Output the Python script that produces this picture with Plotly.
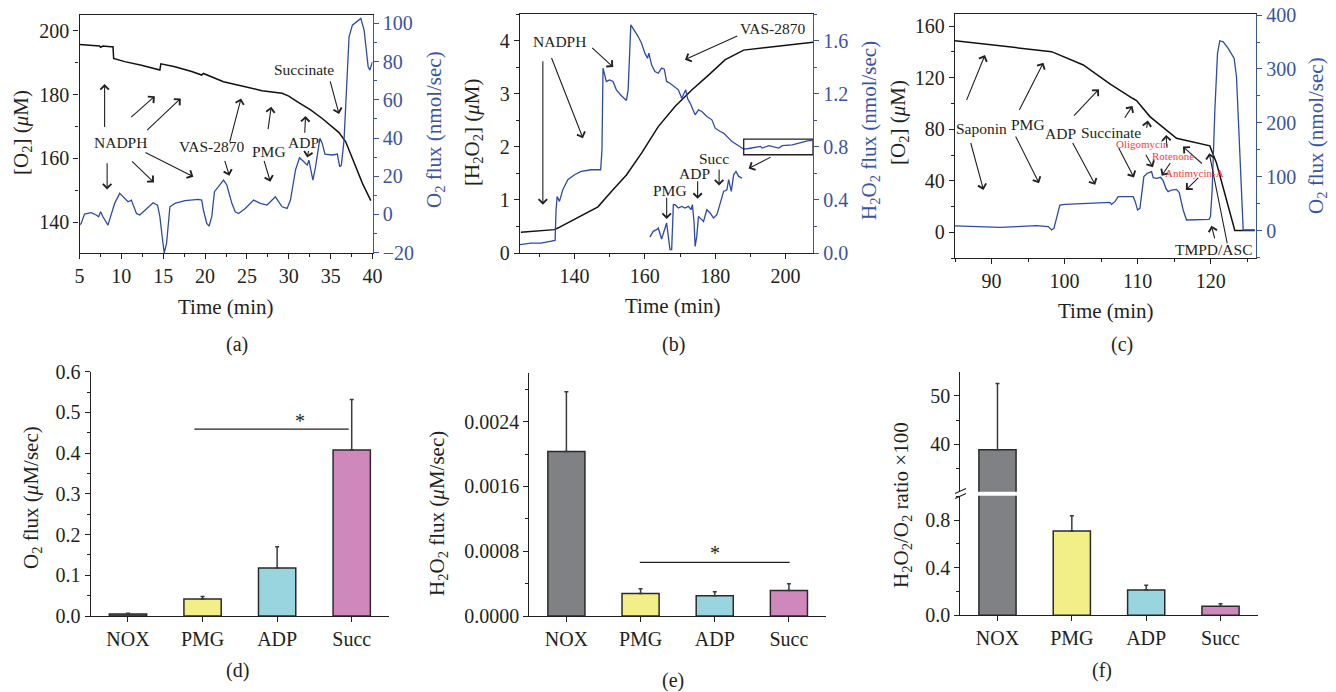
import plotly.graph_objects as go

W, H = 1336, 692
FONT = "Liberation Serif"
INK = "#231f20"
BLUE = "#2d4aa8"
BLUE_AX = "#3b53a4"
RED = "#ff3b3b"

# ---------------- panel (a) ----------------
a_o2_time = [5.0, 7.4, 7.52, 7.8, 8.72, 9.0, 9.08, 10.4, 12.4, 14.4, 14.6, 14.72, 16.4, 18.4,
             19.6, 19.8, 22.2, 24.4, 26.8, 29.2, 30.0, 31.0, 32.6, 34.0, 36.0, 36.8, 38.8, 39.8]
a_o2 = [195.7, 195.2, 194.8, 195.2, 195.0, 195.0, 191.3, 190.3, 189.2, 187.9, 187.7, 189.6, 188.7, 187.2,
        186.1, 186.6, 184.0, 182.7, 181.2, 180.4, 179.5, 177.8, 175.2, 172.5, 168.1, 165.2, 152.2, 146.8]
a_flux_time = [5.0, 5.2, 5.6, 6.4, 7.0, 7.28, 7.52, 7.8, 8.4, 8.8, 9.2, 9.8, 10.4, 10.8, 11.2, 11.8, 12.2,
               12.8, 13.8, 14.32, 14.6, 14.88, 15.12, 15.4, 15.8, 16.4, 17.6, 19.2, 19.6, 19.8, 20.2,
               20.48, 20.8, 21.12, 22.2, 22.6, 23.2, 23.6, 24.0, 24.8, 25.8, 26.6, 27.4, 28.4, 28.8,
               29.2, 29.8, 30.2, 30.8, 31.28, 31.8, 32.2, 32.4, 32.88, 33.2, 33.72, 34.0, 34.32, 35.2,
               35.8, 36.08, 36.28, 36.6, 37.2, 37.6, 38.6, 39.0, 39.48, 39.68, 40.0]
a_flux = [-5.6, -4.7, 0.2, 0.9, -0.3, -1.2, 1.4, -1.2, -5.6, 0.5, 5.8, 11.0, 8.4, 6.6, 7.5, 0.5, -0.3,
          2.3, 6.1, 4.9, -1.2, -11.7, -20.1, -15.2, 4.0, 5.8, 7.2, 7.9, 7.5, 2.3, -4.7,
          -6.1, -1.2, 11.9, 18.0, 15.4, 5.8, 1.4, 0.5, 3.1, 7.5, 5.8, 4.9, 9.2, 6.6,
          4.0, 3.1, 7.5, 23.2, 29.7, 27.6, 25.8, 28.4, 18.0, 25.0, 39.8, 37.2, 31.6, 31.1,
          31.6, 25.0, 25.8, 38.9, 93.0, 99.1, 102.6, 96.5, 77.3, 75.6, 79.9]

# ---------------- panel (b) ----------------
b_h2o2_time = [124.76, 134.29, 135.24, 139.05, 146.67, 150.48, 154.76, 159.05, 163.81, 168.57,
               173.33, 178.1, 182.86, 188.1, 207.9]
b_h2o2 = [0.39, 0.44, 0.47, 0.60, 0.87, 1.16, 1.47, 1.88, 2.38, 2.76, 3.07, 3.35, 3.64, 3.82, 3.97]
b_flux1_time = [124.29, 127.62, 130.48, 134.1, 134.48, 134.76, 135.05, 135.71, 136.67, 138.1, 140.0,
                141.9, 144.76, 147.43, 147.81, 148.1, 148.57, 149.05, 150.0, 150.95, 151.9, 153.33,
                154.76, 155.24, 156.0, 156.95, 158.1, 159.05, 160.0, 160.76, 161.14, 161.9, 162.86,
                163.81, 164.76, 165.52, 166.19, 167.14, 168.1, 169.52, 170.48, 171.62, 172.19, 172.86,
                174.29, 175.24, 176.19, 177.62, 179.05, 180.0, 181.43, 182.38, 183.81, 184.76, 186.19,
                188.1, 189.52, 191.43, 192.86, 193.33, 195.24, 198.1, 199.05, 201.9, 204.76, 206.19, 207.62]
b_flux1 = [0.063, 0.075, 0.075, 0.088, 0.095, 0.326, 0.426, 0.389, 0.476, 0.552, 0.589,
           0.614, 0.627, 0.627, 0.777, 1.392, 1.329, 1.292, 1.304, 1.292, 1.229, 1.184,
           1.149, 1.229, 1.718, 1.680, 1.630, 1.580, 1.505, 1.467, 1.505, 1.417, 1.367,
           1.354, 1.392, 1.384, 1.292, 1.279, 1.259, 1.229, 1.166, 1.229, 1.159, 1.129,
           1.041, 1.078, 1.066, 1.028, 1.003, 0.940, 0.915, 0.903, 0.865, 0.840, 0.815,
           0.782, 0.787, 0.795, 0.803, 0.790, 0.808, 0.790, 0.808, 0.815, 0.833, 0.845, 0.848]
b_flux2_time = [161.43, 162.38, 163.33, 163.81, 164.76, 165.71, 166.19, 166.67, 167.14, 167.62, 168.1,
                168.57, 169.52, 170.48, 171.43, 172.38, 173.14, 173.52, 174.0, 174.29, 174.76, 175.24,
                176.67, 177.62, 178.57, 179.52, 180.48, 181.43, 182.38, 183.33, 183.81, 184.57, 185.24,
                185.9, 186.67, 187.62]
b_flux2 = [0.120, 0.163, 0.176, 0.188, 0.105, 0.176, 0.226, 0.125, 0.025, 0.025, 0.364,
           0.364, 0.339, 0.351, 0.339, 0.351, 0.326, 0.364, 0.226, 0.050, 0.125, 0.276,
           0.238, 0.326, 0.301, 0.263, 0.288, 0.376, 0.464, 0.476, 0.552, 0.464, 0.589,
           0.614, 0.577, 0.564]

# ---------------- panel (c) ----------------
c_o2_time = [85.0, 98.22, 102.56, 106.2, 109.3, 109.62, 109.85, 111.68, 113.27, 115.32, 119.88,
             120.8, 123.3, 126.04]
c_o2 = [148.6, 140.1, 129.8, 115.1, 104.0, 103.2, 102.2, 89.8, 82.6, 73.0, 67.1, 53.7, 1.5, 1.5]
c_flux_time = [85.0, 88.88, 91.16, 93.44, 96.17, 97.77, 98.22, 98.54, 98.91, 99.36, 100.05, 102.56,
               106.2, 106.43, 106.89, 107.34, 109.4, 109.67, 109.99, 110.31, 110.67, 110.85, 111.31,
               111.9, 112.13, 112.59, 113.13, 113.5, 113.86, 114.18, 114.64, 115.32, 115.69, 116.23,
               116.69, 118.06, 119.79, 119.97, 120.2, 120.57, 120.93, 121.25, 121.71, 122.39, 123.21,
               123.53, 123.99, 124.31, 124.45, 126.04]
c_flux = [8.7, 7.4, 6.2, 7.4, 9.3, 7.4, 1.2, 4.3, 26.0, 47.6, 48.8, 50.7,
          52.6, 48.8, 53.8, 63.1, 63.1, 53.8, 38.3, 41.4, 75.4, 100.2, 106.3,
          109.4, 98.3, 97.1, 98.9, 92.7, 78.5, 72.3, 75.4, 76.7, 70.5, 38.3,
          19.8, 19.8, 21.0, 26.0, 75.4, 223.8, 328.9, 352.4, 350.5, 338.2, 319.6,
          285.6, 131.1, 13.6, 1.2, 1.2]

# ---------------- bar panels (d)-(f) ----------------
categories = ["NOX", "PMG", "ADP", "Succ"]
bar_colors = ["#808184", "#f2ee88", "#99d5df", "#cf88bb"]
d_o2_flux = [0.005, 0.042, 0.118, 0.408]
d_o2_err = [0.002, 0.006, 0.052, 0.124]
e_h2o2_flux = [0.00203, 0.000279, 0.000250, 0.000316]
e_h2o2_err = [0.00074, 0.000057, 0.000050, 0.000082]
f_ratio = [38.9, 0.707, 0.212, 0.076]
f_ratio_err = [13.7, 0.128, 0.040, 0.021]


def xd(x0, x1):
    return [x0 / W, x1 / W]


def yd(top, bot):
    return [1 - bot / H, 1 - top / H]


tickfont = dict(family=FONT, size=20, color=INK)
btickfont = dict(family=FONT, size=20, color=BLUE_AX)


def axis(**kw):
    base = dict(showgrid=False, zeroline=False, showline=True, linecolor=INK, linewidth=1.3,
                ticks="outside", ticklen=5, tickwidth=1.2, tickcolor=INK, tickfont=tickfont,
                automargin=False)
    base.update(kw)
    return base


def minor(dt, color=INK):
    return dict(dtick=dt, ticks="outside", ticklen=3, tickwidth=1, tickcolor=color, showgrid=False)


def baxis(**kw):
    return axis(linecolor=BLUE_AX, tickcolor=BLUE_AX, tickfont=btickfont, side="right", **kw)


fig = go.Figure()

line_k = dict(color="#111111", width=1.5)
line_b = dict(color=BLUE, width=1.3)
fig.add_trace(go.Scatter(x=a_o2_time, y=a_o2, mode="lines", line=line_k, xaxis="x", yaxis="y"))
fig.add_trace(go.Scatter(x=a_flux_time, y=a_flux, mode="lines", line=line_b, xaxis="x", yaxis="y2"))
fig.add_trace(go.Scatter(x=b_h2o2_time, y=b_h2o2, mode="lines", line=line_k, xaxis="x2", yaxis="y3"))
fig.add_trace(go.Scatter(x=b_flux1_time, y=b_flux1, mode="lines", line=line_b, xaxis="x2", yaxis="y4"))
fig.add_trace(go.Scatter(x=b_flux2_time, y=b_flux2, mode="lines", line=line_b, xaxis="x2", yaxis="y4"))
fig.add_trace(go.Scatter(x=c_o2_time, y=c_o2, mode="lines", line=line_k, xaxis="x3", yaxis="y5"))
fig.add_trace(go.Scatter(x=c_flux_time, y=c_flux, mode="lines", line=line_b, xaxis="x3", yaxis="y6"))


def bar(vals, errs, xa, ya):
    return go.Bar(x=categories, y=vals, xaxis=xa, yaxis=ya, width=0.5,
                  marker=dict(color=bar_colors, line=dict(color="#2a2a2a", width=1.5)),
                  error_y=dict(type="data", array=errs, arrayminus=[0] * len(errs), symmetric=False,
                               color="#3a3a3a", thickness=1.5, width=2))


fig.add_trace(bar(d_o2_flux, d_o2_err, "x4", "y7"))
fig.add_trace(bar(e_h2o2_flux, e_h2o2_err, "x5", "y8"))
fig.add_trace(bar(f_ratio, f_ratio_err, "x6", "y9"))
fig.add_trace(bar(f_ratio, f_ratio_err, "x6", "y10"))

fig.update_layout(
    width=W, height=H, margin=dict(l=0, r=0, t=0, b=0, autoexpand=False), showlegend=False,
    paper_bgcolor="white", plot_bgcolor="white",
    # (a)
    xaxis=axis(domain=xd(79.5, 372.5), range=[5, 40], anchor="y", dtick=5, tick0=0, mirror=True,
               minor=minor(2.5)),
    yaxis=axis(domain=yd(15, 253), range=[130.4, 204.9], anchor="x", dtick=20, tick0=0, minor=minor(10)),
    yaxis2=baxis(overlaying="y", anchor="x", range=[-20.2, 104.4], dtick=20, tick0=0,
                 minor=minor(10, BLUE_AX)),
    # (b)
    xaxis2=axis(domain=xd(520, 813), range=[124.5, 207.8], anchor="y3", dtick=20, tick0=0, mirror=True,
                minor=minor(10)),
    yaxis3=axis(domain=yd(14, 253), range=[0, 4.5], anchor="x2", dtick=1, tick0=0, minor=minor(0.5)),
    yaxis4=baxis(overlaying="y3", anchor="x2", range=[0, 1.8], dtick=0.4, tick0=0, tickformat=".1f",
                 minor=minor(0.2, BLUE_AX)),
    # (c)
    xaxis3=axis(domain=xd(955, 1256), range=[85, 126.2], anchor="y5", dtick=10, tick0=0, mirror=True,
                minor=minor(5)),
    yaxis5=axis(domain=yd(14, 258.3), range=[-20, 169.3], anchor="x3", dtick=40, tick0=0, minor=minor(20)),
    yaxis6=baxis(overlaying="y5", anchor="x3", range=[-51.3, 402], dtick=100, tick0=0,
                 minor=minor(50, BLUE_AX)),
    # (d)
    xaxis4=axis(domain=xd(90.7, 389), anchor="y7", type="category", range=[-0.5, 3.5]),
    yaxis7=axis(domain=yd(371.7, 616), range=[0, 0.6], anchor="x4", dtick=0.1, tick0=0, tickformat=".1f",
                minor=minor(0.05)),
    # (e)
    xaxis5=axis(domain=xd(529.3, 826), anchor="y8", type="category", range=[-0.5, 3.5]),
    yaxis8=axis(domain=yd(373, 616), range=[0, 0.003], anchor="x5", dtick=0.0008, tick0=0,
                tickformat=".4f", minor=minor(0.0004)),
    # (f)
    xaxis6=axis(domain=xd(960.3, 1257.7), anchor="y9", type="category", range=[-0.5, 3.5]),
    yaxis9=axis(domain=yd(495.7, 615.3), range=[0, 1.004], anchor="x6", dtick=0.4, tick0=0,
                tickformat=".1f", minor=minor(0.2)),
    yaxis10=axis(domain=yd(372.3, 491.7), range=[30.2, 54.9], anchor="x6", dtick=10, tick0=0,
                 minor=minor(5)),
)

ann = []
ANN_SIZE = 15.5


def arrow(xr, yr, tail, head, color=INK):
    return dict(xref=xr, yref=yr, axref=xr, ayref=yr, x=head[0], y=head[1], ax=tail[0], ay=tail[1],
                text="", showarrow=True, arrowhead=4, arrowsize=1.5, arrowwidth=1.1,
                arrowcolor=color, standoff=0, startstandoff=0)


def label(xr, yr, x, y, text, size=ANN_SIZE, color=INK):
    return dict(xref=xr, yref=yr, x=x, y=y, text=text, showarrow=False,
                font=dict(family=FONT, size=size, color=color), xanchor="center", yanchor="middle")


# panel (a) annotations
a_arrows = [((8.0, 169.4), (8.0, 183.3)), ((8.3, 159.0), (8.3, 150.3)),
            ((11.0, 172.5), (14.0, 179.5)), ((12.9, 168.4), (17.1, 178.8)),
            ((11.1, 159.5), (13.9, 152.5)), ((12.7, 162.1), (18.6, 154.3)),
            ((22.9, 164.7), (24.3, 178.8)), ((22.3, 159.7), (22.9, 154.6)),
            ((27.5, 168.7), (27.9, 176.2)), ((27.0, 159.7), (27.8, 152.7)),
            ((31.9, 167.6), (32.0, 173.3)), ((32.4, 162.8), (32.2, 160.3)),
            ((34.9, 184.6), (36.0, 173.9))]
ann += [arrow("x", "y", t, h) for t, h in a_arrows]
ann += [label("x", "y", 9.92, 165.0, "NADPH"), label("x", "y", 20.8, 163.7, "VAS-2870"),
        label("x", "y", 27.6, 162.1, "PMG"), label("x", "y", 31.7, 164.9, "ADP"),
        label("x", "y", 31.8, 187.7, "Succinate")]

# panel (b) annotations
b_arrows = [((131.0, 3.64), (131.0, 0.91)), ((133.3, 3.70), (142.4, 2.16)),
            ((144.6, 3.89), (151.0, 3.50)), ((186.7, 4.10), (171.4, 3.64)),
            ((166.2, 1.07), (166.2, 0.64)), ((175.0, 1.38), (175.0, 1.02)),
            ((181.1, 1.60), (181.1, 1.27)), ((196.2, 1.82), (189.5, 1.59))]
ann += [arrow("x2", "y3", t, h) for t, h in b_arrows]
ann += [label("x2", "y3", 135.7, 3.98, "NADPH"), label("x2", "y3", 196.2, 4.23, "VAS-2870"),
        label("x2", "y3", 167.1, 1.18, "PMG"), label("x2", "y3", 174.0, 1.50, "ADP"),
        label("x2", "y3", 179.7, 1.77, "Succ")]

# panel (c) annotations
c_arrows = [((86.5, 101.4), (89.1, 137.5)), ((87.1, 70.5), (88.9, 33.0)),
            ((93.7, 93.7), (97.1, 131.6)), ((93.2, 75.6), (96.5, 38.2)),
            ((101.1, 89.3), (104.7, 111.0)), ((101.0, 70.5), (104.2, 36.9)),
            ((108.1, 87.7), (109.3, 98.1)), ((107.3, 66.6), (109.5, 42.6)),
            ((111.2, 80.0), (111.4, 86.7)), ((111.0, 61.4), (112.1, 50.6)),
            ((114.0, 65.3), (113.9, 75.6)), ((114.6, 55.0), (113.3, 44.0)),
            ((119.0, 52.4), (116.2, 66.6)), ((118.5, 43.4), (116.6, 33.0)),
            ((120.6, -5.7), (120.1, 5.2)), ((122.3, -9.5), (119.8, 61.4))]
ann += [arrow("x3", "y5", t, h) for t, h in c_arrows]
ann += [label("x3", "y5", 88.6, 80.3, "Saponin"), label("x3", "y5", 95.0, 83.4, "PMG"),
        label("x3", "y5", 99.5, 76.4, "ADP"), label("x3", "y5", 106.4, 77.7, "Succinate"),
        label("x3", "y5", 110.7, 68.4, "Oligomycin", 11, RED),
        label("x3", "y5", 114.8, 59.6, "Rotenone", 11, RED),
        label("x3", "y5", 117.8, 45.9, "Antimycin-A", 11, RED),
        label("x3", "y5", 120.4, -13.4, "TMPD/ASC")]

# significance stars
ann += [label("x4", "y7", 2.3, 0.479, "*", 20), label("x5", "y8", 2.0, 0.000775, "*", 20)]


def ptext(x, y, text, size=21, color=INK, angle=0):
    return dict(xref="paper", yref="paper", x=x / W, y=1 - y / H, text=text, showarrow=False,
                textangle=angle, xanchor="center", yanchor="middle",
                font=dict(family=FONT, size=size, color=color))


mu = "<i>μ</i>"
ann += [
    ptext(22, 133, f"[O<sub>2</sub>] ({mu}M)", angle=-90),
    ptext(435, 130, "O<sub>2</sub> flux (nmol/sec)", color=BLUE_AX, angle=-90),
    ptext(473, 132, f"[H<sub>2</sub>O<sub>2</sub>] ({mu}M)", angle=-90),
    ptext(870, 131, "H<sub>2</sub>O<sub>2</sub> flux (nmol/sec)", color=BLUE_AX, angle=-90),
    ptext(899, 123, f"[O<sub>2</sub>] ({mu}M)", angle=-90),
    ptext(1317, 136, "O<sub>2</sub> flux (nmol/sec)", color=BLUE_AX, angle=-90),
    ptext(32, 498, f"O<sub>2</sub> flux ({mu}M/sec)", angle=-90),
    ptext(438, 514, f"H<sub>2</sub>O<sub>2</sub> flux ({mu}M/sec)", angle=-90),
    ptext(902, 505, "H<sub>2</sub>O<sub>2</sub>/O<sub>2</sub> ratio ×100", angle=-90),
    ptext(225, 307, "Time (min)"), ptext(672, 306, "Time (min)"), ptext(1105, 311, "Time (min)"),
    ptext(237, 344, "(a)", 20), ptext(673, 344, "(b)", 20), ptext(1122, 344, "(c)", 20),
    ptext(237, 670, "(d)", 20), ptext(673, 680, "(e)", 20), ptext(1102, 670, "(f)", 20),
]
fig.update_layout(annotations=ann)

shapes = [
    # inset box in (b)
    dict(type="rect", xref="x2", yref="y3", x0=188.1, x1=207.8, y0=1.85, y1=2.144,
         line=dict(color=INK, width=1.3)),
    # significance bars
    dict(type="line", xref="x4", yref="y7", x0=0.89, x1=2.96, y0=0.459, y1=0.459,
         line=dict(color=INK, width=1.3)),
    dict(type="line", xref="x5", yref="y8", x0=0.99, x1=3.01, y0=0.000661, y1=0.000661,
         line=dict(color=INK, width=1.3)),
    # axis break marks in (f)
    dict(type="line", xref="paper", yref="paper", x0=955 / W, x1=966 / W, y0=1 - 493.5 / H, y1=1 - 488.5 / H,
         line=dict(color=INK, width=1.2)),
    dict(type="line", xref="paper", yref="paper", x0=955 / W, x1=966 / W, y0=1 - 498.5 / H, y1=1 - 493.5 / H,
         line=dict(color=INK, width=1.2)),
]
fig.update_layout(shapes=shapes)

fig.write_html("out.html", config={"displayModeBar": False},
               post_script="document.body.style.margin='0px';document.body.style.overflow='hidden';")
